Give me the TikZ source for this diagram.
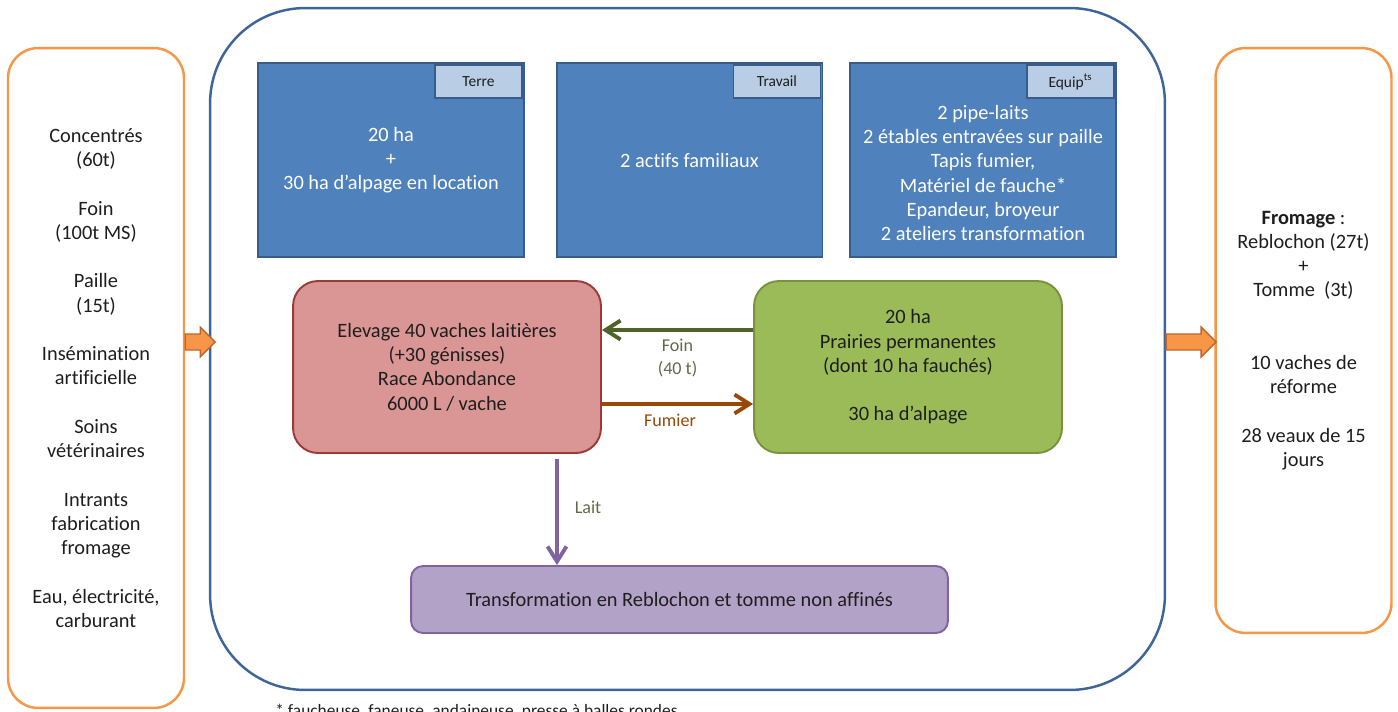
\documentclass[tikz,border=0pt]{standalone}
\usepackage{fontspec}
\setmainfont{Carlito}[Ligatures=CommonOff]
\usetikzlibrary{arrows.meta,calc}

\definecolor{sideorange}{HTML}{F79646}
\definecolor{arrowedge}{HTML}{C0652A}
\definecolor{farmblue}{HTML}{3E6598}
\definecolor{boxblue}{HTML}{4F81BD}
\definecolor{boxedge}{HTML}{385D8A}
\definecolor{tabblue}{HTML}{B9CDE5}
\definecolor{elevfill}{HTML}{D99694}
\definecolor{elevedge}{HTML}{9B3B38}
\definecolor{prairfill}{HTML}{9BBB59}
\definecolor{prairedge}{HTML}{77933C}
\definecolor{transfill}{HTML}{B3A2C7}
\definecolor{transedge}{HTML}{8064A2}
\definecolor{foincol}{HTML}{4F6228}
\definecolor{foinlabel}{HTML}{5E6B48}
\definecolor{fumiercol}{HTML}{984807}
\definecolor{txtgrey}{HTML}{1E1E1E}

\tikzset{
  basetext/.style={font=\fontsize{11.6}{13.8}\selectfont, text=txtgrey, align=center},
  sidebox/.style={basetext, draw=sideorange, line width=1.4pt, rounded corners=0.6cm, minimum width=3.52cm, inner sep=0pt},
  resbox/.style={basetext, text=white, draw=boxedge, fill=boxblue, line width=1.1pt, minimum width=5.32cm, minimum height=3.88cm, inner sep=0pt},
  tabbox/.style={font=\fontsize{8.8}{10}\selectfont, text=txtgrey, draw=boxedge, fill=tabblue, line width=1.1pt, minimum width=1.74cm, minimum height=0.66cm, inner sep=0pt, anchor=north east},
  flowbox/.style={basetext, line width=1.1pt, rounded corners=0.5cm, minimum width=6.16cm, minimum height=3.44cm, inner sep=0pt},
  flowlabel/.style={font=\fontsize{10.3}{13}\selectfont, align=center},
  flowarrow/.style={line width=2.2pt, -{Straight Barb[length=0.3cm, width=0.38cm, line width=2.2pt]}},
  blockarrow/.style={fill=sideorange, draw=arrowedge, line width=0.8pt, line join=miter}
}

\begin{document}
\begin{tikzpicture}[x=0.02cm, y=-0.02cm]
  \useasboundingbox (0,0) rectangle (1398,711);

  \node[sidebox, minimum height=13.2cm] at (96,378) (inputs) {Concentrés\\(60t)\\~\\Foin\\(100t MS)\\~\\Paille\\(15t)\\~\\Insémination\\artificielle\\~\\Soins\\vétérinaires\\~\\Intrants\\fabrication\\fromage\\~\\Eau, électricité,\\carburant};
  \node[draw=farmblue, line width=1.4pt, rounded corners=1.9cm, minimum width=19.1cm, minimum height=13.64cm] at (687.5,349) (farm) {};
  \node[sidebox, minimum height=11.7cm] at (1303.5,340.5) (outputs) {\textbf{Fromage} :\\Reblochon (27t)\\+\\Tomme~~(3t)\\~\\~\\10 vaches de\\réforme\\~\\28 veaux de 15\\jours};

  \node[resbox] at (391,160) (terre) {20 ha\\+\\30 ha d’alpage en location};
  \node[tabbox] at ($(terre.north east)+(-2,2)$) (terre_tab) {Terre};
  \node[resbox] at (689.5,160) (travail) {2 actifs familiaux};
  \node[tabbox] at ($(travail.north east)+(-2,2)$) (travail_tab) {Travail};
  \node[resbox] at (983,160) (equip) {};
  \node[tabbox] at ($(equip.north east)+(-2,2)$) (equip_tab) {Equip\textsuperscript{ts}};
  \node[basetext, text=white] at (983,173) (equip_text) {2 pipe-laits\\2 étables entravées sur paille\\Tapis fumier,\\Matériel de fauche*\\Epandeur, broyeur\\2 ateliers transformation};

  \node[flowbox, draw=elevedge, fill=elevfill] at (447,367) (elevage) {Elevage 40 vaches laitières\\(+30 génisses)\\Race Abondance\\6000 L / vache};
  \node[flowbox, draw=prairedge, fill=prairfill] at (908,367) (prairies) {20 ha\\Prairies permanentes\\(dont 10 ha fauchés)\\~\\30 ha d’alpage};
  \node[basetext, draw=transedge, fill=transfill, line width=1.1pt, rounded corners=0.24cm, minimum width=10.74cm, minimum height=1.34cm, inner sep=0pt] at (679.5,599.5) (transfo) {Transformation en Reblochon et tomme non affinés};

  \draw[flowarrow, foincol] ($(prairies.west)+(0,-37)$) -- ($(elevage.east)+(0,-37)$) node[midway, below, flowlabel, text=foinlabel, yshift=-0.02cm] {Foin\\(40 t)};
  \draw[flowarrow, fumiercol] ($(elevage.east)+(0,37)$) -- ($(prairies.west)+(0,37)$) node[midway, below, flowlabel, text=fumiercol, xshift=-0.15cm, yshift=-0.04cm] {Fumier};
  \coordinate (lait_top) at ($(elevage.south)+(110,5)$);
  \draw[flowarrow, transedge] (lait_top) -- (lait_top |- transfo.north) node[midway, right, flowlabel, text=foinlabel, xshift=0.2cm, yshift=0.1cm] {Lait};

  \coordinate (arrow_level) at (0,334);
  \draw[blockarrow] (inputs.east |- arrow_level) -- ++(15,0) -- ++(0,-7) -- ++(15,15) -- ++(-15,15) -- ++(0,-7) -- ++(-15,0) -- cycle;
  \draw[blockarrow] (farm.east |- arrow_level) -- ++(35,0) -- ++(0,-7) -- ++(15,15) -- ++(-15,15) -- ++(0,-7) -- ++(-35,0) -- cycle;

  \node[font=\fontsize{9.9}{11}\selectfont, text=txtgrey, anchor=base west, inner sep=0pt] at (275,716) (footnote) {* faucheuse, faneuse, andaineuse, presse à balles rondes};
\end{tikzpicture}
\end{document}
